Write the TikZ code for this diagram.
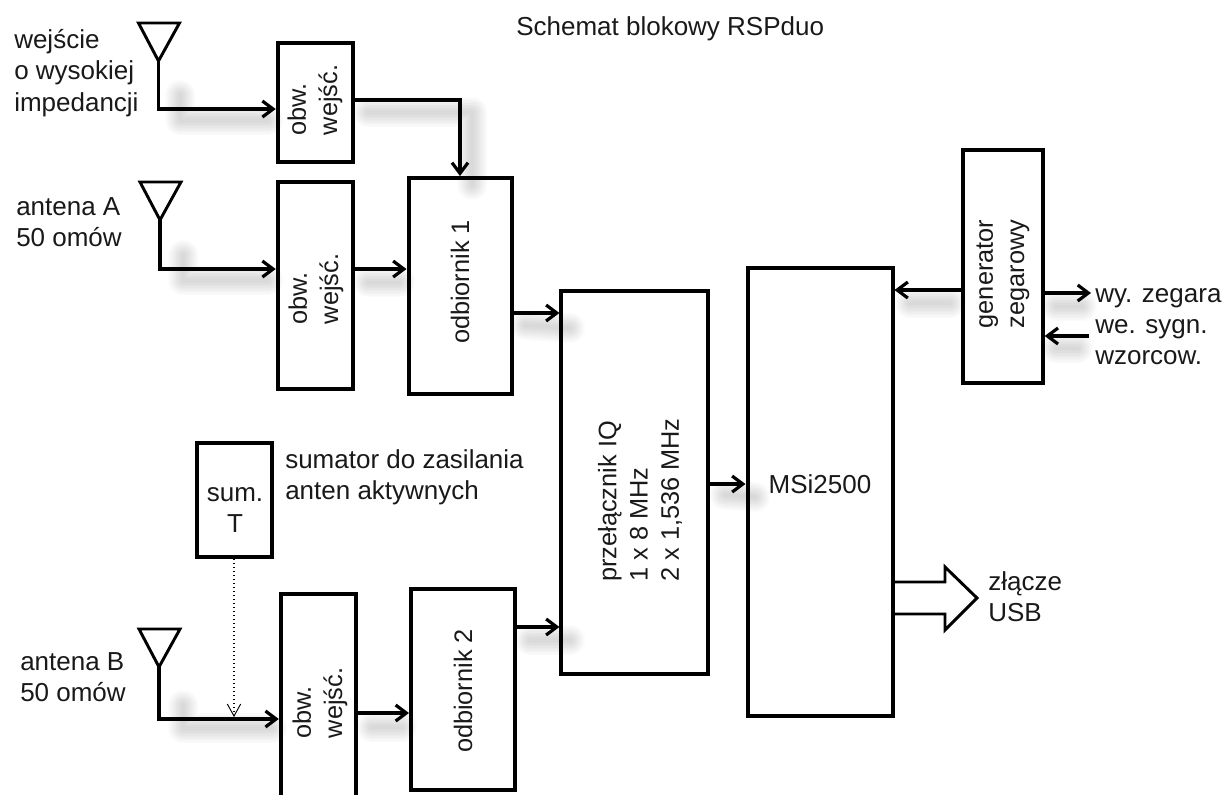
\documentclass[tikz,border=0pt]{standalone}
\usepackage{fontspec}
\setmainfont{Liberation Sans}
\usetikzlibrary{arrows.meta}
\tikzset{
  blockbox/.style={draw=black,line width=3pt,line join=miter,inner sep=0pt},
  wire/.style={draw=black,line width=2.4pt,line join=miter,-{Straight Barb[length=8pt,width=12pt,line width=2.4pt]}},
  thinwire/.style={draw=black,line width=2.4pt,line join=miter,-{Straight Barb[length=8pt,width=12pt,line width=2.4pt]}},
  antennashape/.style={draw=black,line width=2.2pt,line join=miter},
  dotwire/.style={draw=black,line width=1pt,dotted,-{Straight Barb[length=9pt,width=10pt,line width=.7pt]}},
  busarrow/.style={draw=black,line width=2.2pt,line join=miter},
  txt/.style={font=\fontsize{19.5}{23.4}\selectfont,text=black!90,inner sep=0pt,align=left},
  vtxt/.style={txt,font=\fontsize{19}{23.4}\selectfont,rotate=90},
  smudgeline/.style={draw=black,opacity=.016,line cap=round,line join=round}
}
\newcommand{\smudgepath}[1]{%
  \foreach \w in {30,27,24,21,18,15,12,9,6,3}{\draw[smudgeline,line width=\w*.75pt] #1;}}
\newcommand{\antennaat}[3]{%
  \coordinate (#1) at (#2,#3);
  \draw[antennashape] (#1) -- ++(-20,-38) -- ++(41,0) -- cycle;}
\begin{document}
\begin{tikzpicture}[x=.75pt,y=-.75pt]
\useasboundingbox (0,0) rectangle (1224,794);
\clip (0,0) rectangle (1224,794);
% soft shadows
\smudgepath{(180,95) -- (180,120) -- (268,120)}
\smudgepath{(183,255) -- (183,280) -- (268,280)}
\smudgepath{(368,112) -- (472,112) -- (472,185)}
\smudgepath{(368,282) -- (400,282)}
\smudgepath{(525,325) -- (570,328)}
\smudgepath{(183,705) -- (183,728) -- (272,728)}
\smudgepath{(372,727) -- (402,727)}
\smudgepath{(530,640) -- (570,640)}
\smudgepath{(725,495) -- (755,497)}
\smudgepath{(910,303) -- (950,303)}
\smudgepath{(1056,306) -- (1082,306)}
\smudgepath{(1056,348) -- (1078,348)}
% blocks
\node[blockbox,minimum width=75.5*.75pt,minimum height=119*.75pt] (obw1) at (315.5,102) {};
\node[blockbox,minimum width=75.5*.75pt,minimum height=207*.75pt] (obw2) at (315.5,285.5) {};
\node[blockbox,minimum width=103*.75pt,minimum height=216*.75pt] (odb1) at (460,286) {};
\node[blockbox,minimum width=75*.75pt,minimum height=114*.75pt] (sumT) at (234,500) {};
\node[blockbox,minimum width=75*.75pt,minimum height=214*.75pt] (obw3) at (318.3,701) {};
\node[blockbox,minimum width=104*.75pt,minimum height=200.7*.75pt] (odb2) at (463,689.6) {};
\node[blockbox,minimum width=146.5*.75pt,minimum height=383*.75pt] (prz) at (634.7,482.5) {};
\node[blockbox,minimum width=145*.75pt,minimum height=448*.75pt] (msi) at (820,492) {};
\node[blockbox,minimum width=79.4*.75pt,minimum height=232.7*.75pt] (gen) at (1003,266.3) {};
% antennas
\antennaat{antW}{158.5}{61}
\antennaat{antA}{160}{220}
\antennaat{antB}{159}{667}
% texts
\node[txt,anchor=base west] (title) at (516,35) {Schemat blokowy RSPduo};
\node[txt,anchor=west] (lblW) at (14,73) {wejście\\o wysokiej\\impedancji};
\node[txt,anchor=west] (lblA) at (16,222) {antena A\\50 omów};
\node[txt,anchor=west] (lblB) at (20,677) {antena B\\50 omów};
\node[txt,anchor=west] (lblS) at (285,477) {sumator do zasilania\\anten aktywnych};
\node[txt,align=center] (tS) at (235,510) {sum.\\T};
\node[vtxt] (t1) at (315,100) {obw.\\wejść.};
\node[vtxt] (t2) at (316,289) {obw.\\wejść.};
\node[vtxt] (t3) at (320,703) {obw.\\wejść.};
\node[vtxt] (tO1) at (460,282) {odbiornik 1};
\node[vtxt] (tO2) at (463,691) {odbiornik 2};
\node[vtxt] (tP) at (640,500) {przełącznik IQ\\1 x 8 MHz\\2 x 1,536 MHz};
\node[txt] (tM) at (820,484) {MSi2500};
\node[vtxt] (tG) at (1003,274) {generator\\zegarowy};
\node[txt,anchor=base west] (lblOut) at (1095,302) {wy. zegara};
\node[txt,anchor=west] (lblIn) at (1095,342) {we. sygn.\\wzorcow.};
\node[txt,anchor=west] (lblU) at (988,597) {złącze\\USB};
% connectors
\coordinate (outEnd) at (1091,293);
\coordinate (inStart) at (1089,336);
\draw[wire] (antW) |- (obw1.west |- 0,109);
\draw[wire] (antA) |- (obw2.west |- 0,269);
\draw[wire] (antB) |- (obw3.west |- 0,719);
\draw[dotwire] (sumT.south) -- (sumT.south |- 0,717);
\draw[thinwire] (obw1.east |- 0,100) -| (odb1.north);
\draw[wire] (obw2.east |- 0,269) -- (odb1.west |- 0,269);
\draw[wire] (obw3.east |- 0,713) -- (odb2.west |- 0,713);
\draw[thinwire] (odb1.east |- 0,313) -- (prz.west |- 0,313);
\draw[thinwire] (odb2.east |- 0,627) -- (prz.west |- 0,627);
\draw[thinwire] (prz.east |- 0,484) -- (msi.west |- 0,484);
\draw[thinwire] (gen.west |- 0,290) -- (msi.east |- 0,290);
\draw[wire] (gen.east |- 0,293) -- (outEnd);
\draw[wire] (inStart) -- (gen.east |- 0,336);
\draw[busarrow] (msi.east |- 0,582) -- (945,582) -- (945,567) -- (977,598) -- (945,630) -- (945,614) -- (msi.east |- 0,614);
\end{tikzpicture}
\end{document}
